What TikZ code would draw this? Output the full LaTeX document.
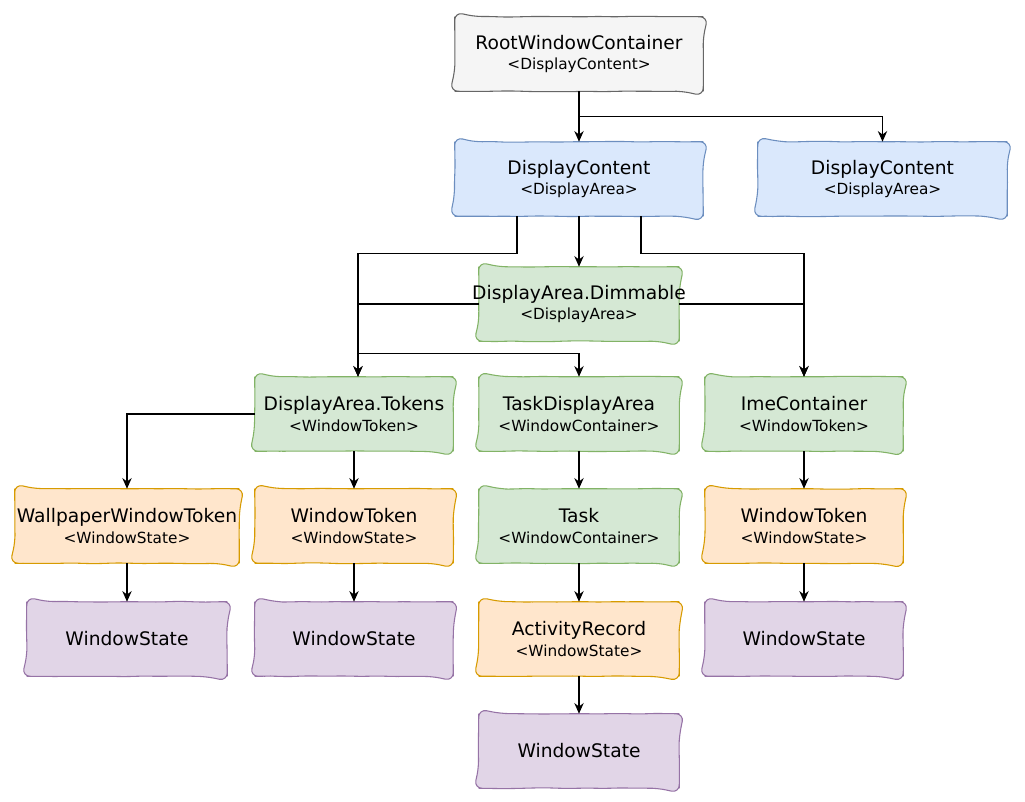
\documentclass[tikz,border=0pt]{standalone}
\usepackage{fontspec}
\setmainfont{DejaVu Sans}
\usetikzlibrary{arrows.meta,calc,decorations.pathmorphing}
\pgfdeclarelayer{background}
\pgfsetlayers{background,main}
\definecolor{grayF}{HTML}{F5F5F5}\definecolor{grayD}{HTML}{666666}
\definecolor{blueF}{HTML}{DAE8FC}\definecolor{blueD}{HTML}{6C8EBF}
\definecolor{greenF}{HTML}{D5E8D4}\definecolor{greenD}{HTML}{82B366}
\definecolor{orangeF}{HTML}{FFE6CC}\definecolor{orangeD}{HTML}{D79B00}
\definecolor{purpleF}{HTML}{E1D5E7}\definecolor{purpleD}{HTML}{9673A6}
\newcommand{\mt}[2]{{\fontsize{14}{17}\selectfont #1}\\[3.5pt]{\fontsize{11.5}{14}\selectfont #2}}
\newcommand{\st}[1]{{\fontsize{14}{17}\selectfont #1}}
% \bx{name}{x,y}{width}{colour style}{text}
\newcommand{\bx}[5]{%
  \node[boxtxt,minimum width=#3] (#1) at (#2) {#5};
  \begin{pgfonlayer}{background}
    \path[#4,boxline] (#1.north) -- (#1.north east) -- (#1.south east)
      -- (#1.south west) -- (#1.north west) -- cycle;
  \end{pgfonlayer}}
\begin{document}
\begin{tikzpicture}[x=0.75pt,y=-0.75pt,
  boxtxt/.style={align=center,inner sep=0pt,minimum height=55.5pt,minimum width=150pt},
  boxline/.style={draw,line width=0.8pt,rounded corners=6pt,
    decorate,decoration={random steps,segment length=10pt,amplitude=0.35pt}},
  gbox/.style={fill=grayF,draw=grayD},
  bbox/.style={fill=blueF,draw=blueD},
  grbox/.style={fill=greenF,draw=greenD},
  obox/.style={fill=orangeF,draw=orangeD},
  pbox/.style={fill=purpleF,draw=purpleD},
  conn/.style={draw=black,line width=1pt,-{Stealth[length=8pt,width=7pt]}}]
\begin{pgfonlayer}{background}
\fill[white] (0,0) rectangle (1025,801);
\end{pgfonlayer}
\useasboundingbox (0,0) rectangle (1025,801);
% row 1
\bx{root}{579,54}{186pt}{gbox}{\mt{RootWindowContainer}{<DisplayContent>}}
% row 2
\bx{dc1}{579,179}{186pt}{bbox}{\mt{DisplayContent}{<DisplayArea>}}
\bx{dc2}{882.5,179}{186.75pt}{bbox}{\mt{DisplayContent}{<DisplayArea>}}
% row 3
\bx{dimm}{579,304}{150pt}{grbox}{\mt{\makebox[0pt][c]{DisplayArea.Dimmable}}{<DisplayArea>}}
% row 4
\bx{tokens}{354,414}{148.5pt}{grbox}{\mt{DisplayArea.Tokens}{<WindowToken>}}
\bx{tda}{579,414}{150pt}{grbox}{\mt{TaskDisplayArea}{<WindowContainer>}}
\bx{ime}{804,414}{148.5pt}{grbox}{\mt{ImeContainer}{<WindowToken>}}
% row 5
\bx{wall}{127,526}{168pt}{obox}{\mt{\makebox[0pt][c]{WallpaperWindowToken}}{<WindowState>}}
\bx{wt1}{354,526}{148.5pt}{obox}{\mt{WindowToken}{<WindowState>}}
\bx{task}{579,526}{150pt}{grbox}{\mt{Task}{<WindowContainer>}}
\bx{wt2}{804,526}{148.5pt}{obox}{\mt{WindowToken}{<WindowState>}}
% row 6
\bx{ws1}{127,639}{150pt}{pbox}{\st{WindowState}}
\bx{ws2}{354,639}{148.5pt}{pbox}{\st{WindowState}}
\bx{ar}{579,639}{150pt}{obox}{\mt{ActivityRecord}{<WindowState>}}
\bx{ws4}{804,639}{148.5pt}{pbox}{\st{WindowState}}
% row 7
\bx{ws3}{579,751}{150pt}{pbox}{\st{WindowState}}
% connectors
\draw[conn] (root.south) -- (dc1.north);
\draw[conn] (root.south) -- ++(0,25) -| (dc2.north);
\draw[conn] (dc1.south) -- (dimm.north);
\coordinate (tokin) at ($(tokens.north)+(4,0)$);
\draw[conn] ($(dc1.south)+(-62,0)$) -- ++(0,37) -| (tokin);
\draw[conn] ($(dc1.south)+(62,0)$) -- ++(0,37) -| (ime.north);
\draw[conn] (dimm.west) -| (tokin);
\draw[conn] (dimm.east) -| (ime.north);
\draw[conn] (dimm.west) -| ($(tokin)+(0,-23)$) -| (tda.north);
\draw[conn] (tokens.west) -| (wall.north);
\draw[conn] (tokens.south) -- (wt1.north);
\draw[conn] (tda.south) -- (task.north);
\draw[conn] (ime.south) -- (wt2.north);
\draw[conn] (wall.south) -- (ws1.north);
\draw[conn] (wt1.south) -- (ws2.north);
\draw[conn] (task.south) -- (ar.north);
\draw[conn] (wt2.south) -- (ws4.north);
\draw[conn] (ar.south) -- (ws3.north);
\end{tikzpicture}
\end{document}
